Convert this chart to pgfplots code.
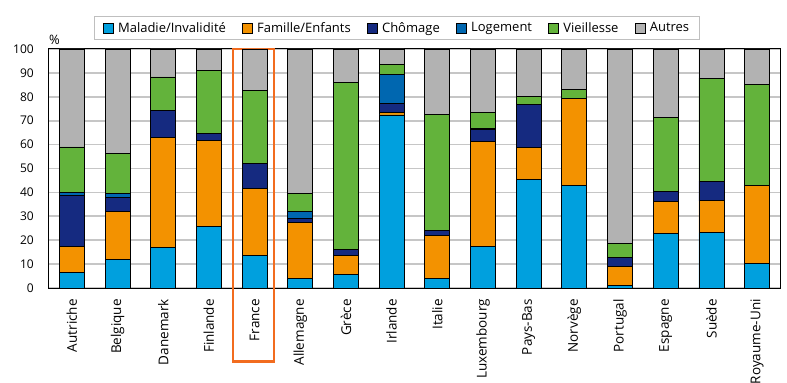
\documentclass[border=0pt]{standalone}
\usepackage{pgfplots}
\usepackage{pgfplotstable}
\pgfplotsset{compat=1.18}
\usepackage{fontspec}
\setmainfont{Open Sans}
\definecolor{cMal}{HTML}{00A0DE}
\definecolor{cFam}{HTML}{F39200}
\definecolor{cCho}{HTML}{152A80}
\definecolor{cLog}{HTML}{0067B0}
\definecolor{cVie}{HTML}{63B33B}
\definecolor{cAut}{HTML}{B2B2B2}
\definecolor{cGrid}{HTML}{C6C6C6}
\definecolor{cFr}{HTML}{F26C1F}
\newcommand\fsz{\fontsize{13bp}{15bp}\selectfont}
\newcommand\fszx{\fontsize{13.5bp}{15bp}\selectfont}
\newcommand\fszy{\fontsize{12bp}{14bp}\selectfont}

\pgfplotstableread{
idx mal fam cho log vie aut
0  6.6 10.7 21.3 1.2 19.2 41.0
1  11.8 20.4 5.8 1.7 16.7 43.6
2  17.0 46.0 11.1 0 14.2 11.7
3  25.6 36.2 2.7 0.3 26.1 9.1
4  13.6 27.9 10.5 0.3 30.4 17.3
5  3.8 23.8 1.3 3.3 7.5 60.3
6  5.8 8.0 2.2 0 70.1 13.9
7  72.4 1.0 3.9 12.1 4.2 6.4
8  3.8 18.2 1.9 0 48.9 27.2
9  17.5 43.8 4.9 0.7 6.6 26.5
10 45.3 13.5 17.8 0 3.5 19.9
11 43.0 36.2 0 0 4.0 16.8
12 1.2 7.7 3.8 0 5.9 81.4
13 22.8 13.3 4.4 0 30.8 28.7
14 23.2 13.3 8.2 0 43.1 12.2
15 10.2 32.7 0 0 42.1 15.0
}\data

\pgfplotsset{
  sqleg/.style={legend image code/.code={\draw[##1,draw=black,line width=0.6bp] (0bp,-5bp) rectangle (10bp,5bp);\path[draw=none,fill=none] (0bp,0bp) -- (13bp,0bp);}},
}

\begin{document}
\begin{tikzpicture}
\begin{axis}[
  name=ax,
  scale only axis,
  width=731bp, height=239bp,
  ybar stacked,
  bar width=25bp,
  xmin=-0.5, xmax=15.5,
  ymin=0, ymax=100,
  ytick={0,10,...,100},
  xtick={0,...,15},
  xticklabels={Autriche,Belgique,Danemark,Finlande,France,Allemagne,Grèce,Irlande,Italie,Luxembourg,Pays-Bas,Norvège,Portugal,Espagne,Suède,Royaume-Uni},
  x tick label style={rotate=90, anchor=east, font=\fszx, inner sep=0pt},
  xticklabel shift=11bp,
  y tick label style={font=\fszy, inner sep=0pt},
  yticklabel shift=15bp,
  /pgf/number format/assume math mode=true,
  major tick length=0pt,
  ymajorgrids,
  grid style={cGrid, line width=1.8bp},
  axis line style={black, line width=1bp},
  clip=false,
  legend columns=6,
  legend style={at={(0.476,1.088)}, anchor=center, draw=black!25, line width=0.8bp,
    font=\fsz, inner xsep=8bp, inner ysep=4bp,
    /tikz/every even column/.append style={column sep=14bp},
    cells={anchor=west}},
  every axis plot/.append style={draw=black, line width=0.9bp},
]
\addplot[fill=cMal, sqleg] table[x=idx,y=mal]{\data};
\addplot[fill=cFam, sqleg] table[x=idx,y=fam]{\data};
\addplot[fill=cCho, sqleg] table[x=idx,y=cho]{\data};
\addplot[fill=cLog, sqleg] table[x=idx,y=log]{\data};
\addplot[fill=cVie, sqleg] table[x=idx,y=vie]{\data};
\addplot[fill=cAut, sqleg] table[x=idx,y=aut]{\data};
\legend{Maladie/Invalidité,Famille/Enfants,Chômage,Logement,Vieillesse,Autres}
\draw[cFr, line width=2.5bp] (axis cs:3.53,100) rectangle (axis cs:4.42,-30.8);
\node[anchor=south west, inner sep=0pt, yshift=4bp, font=\fsz] at (rel axis cs:0,1) {\%};
\end{axis}
\pgfresetboundingbox
\path ([xshift=-49bp,yshift=-95bp]ax.south west) rectangle ([xshift=7bp,yshift=49bp]ax.north east);
\end{tikzpicture}
\end{document}
